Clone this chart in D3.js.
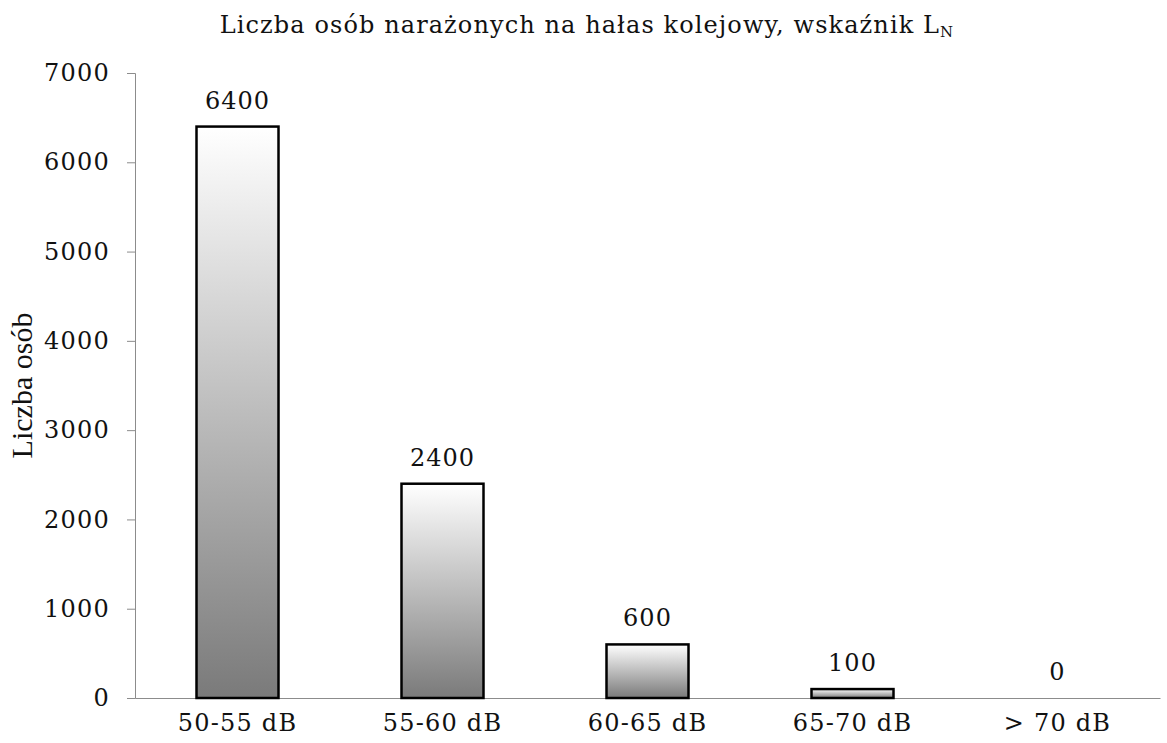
<!DOCTYPE html>
<html lang="pl">
  <head>
    <meta charset="UTF-8" />
    <script src="https://cdnjs.cloudflare.com/ajax/libs/d3/7.8.5/d3.min.js"></script>
    <title>Liczba osób narażonych na hałas kolejowy</title>
    <style>
      body {
        margin: 0;
        background: white;
      }
      text {
        font-family: "DejaVu Serif", serif;
        fill: #111;
      }
      .title {
        font-size: 24px;
        letter-spacing: 1.1px;
      }
      .axis text {
        font-family: "DejaVu Serif", serif;
        font-size: 24px;
        letter-spacing: 1.2px;
        fill: #111;
      }
      .axis path,
      .axis line {
        stroke: #8c8c8c;
      }
      .bar {
        stroke: #000;
        stroke-width: 2.5;
      }
      .value {
        font-size: 24px;
        letter-spacing: 1px;
        text-anchor: middle;
      }
      .ylabel {
        font-family: "Liberation Serif", serif;
        font-size: 30px;
      }
    </style>
  </head>
  <body>
    <script>
      const categories = ["50-55 dB", "55-60 dB", "60-65 dB", "65-70 dB", "> 70 dB"];
      const values = [6400, 2400, 600, 100, 0];
      const yTicks = [0, 1000, 2000, 3000, 4000, 5000, 6000, 7000];

      const width = 1167;
      const height = 743;
      const margin = { top: 73, right: 7, bottom: 45, left: 135 };

      const svg = d3
        .select("body")
        .append("svg")
        .attr("width", width)
        .attr("height", height);

      const grad = svg
        .append("defs")
        .append("linearGradient")
        .attr("id", "barGrad")
        .attr("x1", 0)
        .attr("y1", 0)
        .attr("x2", 0)
        .attr("y2", 1);
      grad.append("stop").attr("offset", "0%").attr("stop-color", "#ffffff");
      grad.append("stop").attr("offset", "100%").attr("stop-color", "#7a7a7a");

      const x = d3
        .scaleBand()
        .domain(categories)
        .range([margin.left, width - margin.right])
        .paddingInner(0.6)
        .paddingOuter(0.3);

      const y = d3
        .scaleLinear()
        .domain([0, 7000])
        .range([height - margin.bottom, margin.top]);

      // title
      const title = svg
        .append("text")
        .attr("class", "title")
        .attr("x", 587)
        .attr("y", 33)
        .attr("text-anchor", "middle");
      title.append("tspan").text("Liczba osób narażonych na hałas kolejowy, wskaźnik L");
      title.append("tspan").attr("font-size", "0.62em").attr("dy", 4).text("N");

      // y axis
      svg
        .append("g")
        .attr("class", "axis")
        .attr("transform", `translate(${margin.left},0)`)
        .call(
          d3
            .axisLeft(y)
            .tickValues(yTicks)
            .tickFormat(d3.format("d"))
            .tickSize(8)
            .tickPadding(17)
            .tickSizeOuter(8)
        );

      // x axis
      svg
        .append("g")
        .attr("class", "axis")
        .attr("transform", `translate(0,${y(0)})`)
        .call(d3.axisBottom(x).tickSize(0).tickPadding(16).tickSizeOuter(0));

      svg
        .append("text")
        .attr("class", "ylabel")
        .attr("transform", `translate(32,${(y(0) + y(7000)) / 2}) rotate(-90)`)
        .attr("text-anchor", "middle")
        .text("Liczba osób");

      const data = categories.map((c, i) => ({ cat: c, val: values[i] }));

      svg
        .append("g")
        .selectAll("rect")
        .data(data.filter((d) => d.val > 0))
        .enter()
        .append("rect")
        .attr("class", "bar")
        .attr("x", (d) => x(d.cat))
        .attr("y", (d) => y(d.val))
        .attr("width", x.bandwidth())
        .attr("height", (d) => y(0) - y(d.val))
        .attr("fill", "url(#barGrad)");

      svg
        .append("g")
        .selectAll("text")
        .data(data)
        .enter()
        .append("text")
        .attr("class", "value")
        .attr("x", (d) => x(d.cat) + x.bandwidth() / 2)
        .attr("y", (d) => y(d.val) - 18)
        .text((d) => d.val);
    </script>
  </body>
</html>
